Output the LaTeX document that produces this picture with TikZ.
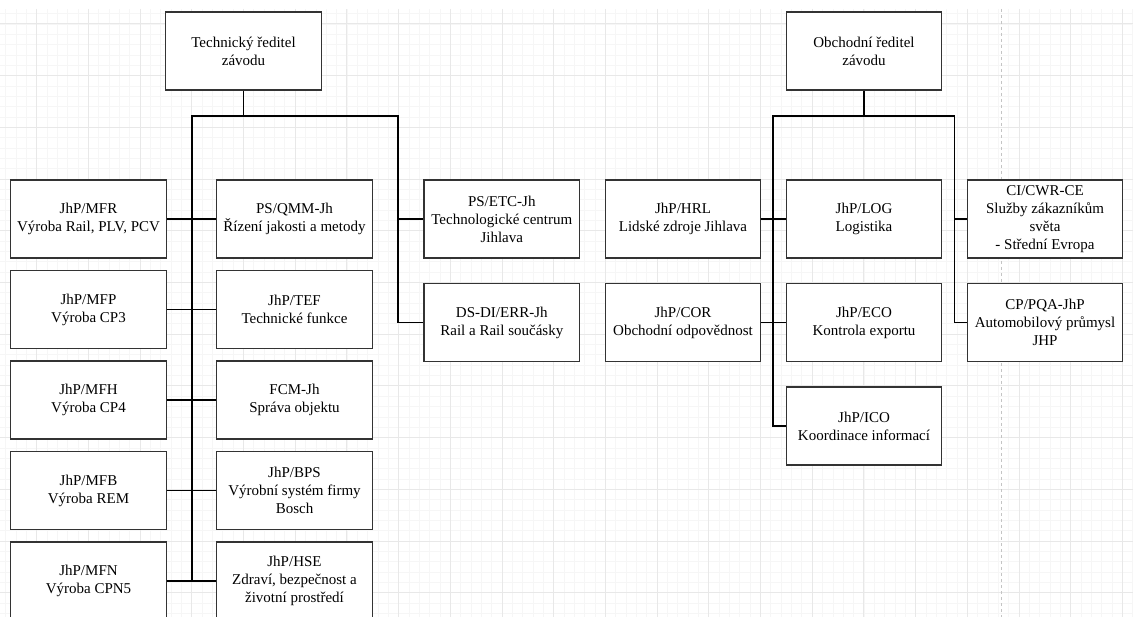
\documentclass[tikz,border=0pt]{standalone}
\usepackage{fontspec}
\setmainfont{Liberation Serif}
\usetikzlibrary{positioning,calc}
\definecolor{gridminor}{HTML}{F6F6F6}
\definecolor{gridmajor}{HTML}{E8E8E8}
\definecolor{pageline}{HTML}{C4C4C4}
\definecolor{boxline}{HTML}{333333}
\newcommand{\orgfont}{\fontsize{15}{18}\selectfont}
\tikzstyle{unit}=[draw=boxline, line width=1.3pt, fill=white, text centered, align=center, minimum width=155.5pt, minimum height=78pt, inner sep=0pt, font=\orgfont]
\tikzstyle{link}=[line width=1.3pt, black]

\begin{document}
\begin{tikzpicture}[x=1pt,y=-1pt,on grid,node distance=90.5pt and 206pt]
   \useasboundingbox (0,0) rectangle (1133,617);
   \clip (0,0) rectangle (1133,617);
   % background grid
   \foreach \i in {0,...,109} \draw[gridminor,line width=0.8pt] ({5.7+10.34*\i},9) -- ++(0,608);
   \foreach \i in {0,...,58} \draw[gridminor,line width=0.8pt] (0,{13.66+10.34*\i}) -- ++(1133,0);
   \foreach \i in {0,...,21} \draw[gridmajor,line width=1pt] ({36.7+51.7*\i},9) -- ++(0,608);
   \foreach \i in {0,...,11} \draw[gridmajor,line width=1pt] (0,{24+51.7*\i}) -- ++(1133,0);
   \draw[pageline,line width=1pt,dash pattern=on 3pt off 3pt] (1001.7,9) -- (1001.7,617);

   % technical director
   \node[unit] (tech) at (243.5,51) {Technický ředitel\\závodu};
   \node[unit] (qmm) at (294.5,219) {PS/QMM-Jh\\Řízení jakosti a metody};
   \node[unit] (mfr) [left=of qmm] {JhP/MFR\\Výroba Rail, PLV, PCV};
   \node[unit] (tef) [below=of qmm] {JhP/TEF\\Technické funkce};
   \node[unit] (mfp) [below=of mfr] {JhP/MFP\\Výroba CP3};
   \node[unit] (fcm) [below=of tef] {FCM-Jh\\Správa objektu};
   \node[unit] (mfh) [below=of mfp] {JhP/MFH\\Výroba CP4};
   \node[unit] (bps) [below=of fcm] {JhP/BPS\\Výrobní systém firmy\\Bosch};
   \node[unit] (mfb) [below=of mfh] {JhP/MFB\\Výroba REM};
   \node[unit] (hse) [below=of bps] {JhP/HSE\\Zdraví, bezpečnost a\\životní prostředí};
   \node[unit] (mfn) [below=of mfb] {JhP/MFN\\Výroba CPN5};
   \node[unit] (etc) at (501.8,219) {PS/ETC-Jh\\Technologické centrum\\Jihlava};
   \node[unit] (err) [below=103.5pt of etc] {DS-DI/ERR-Jh\\Rail a Rail součásky};

   % sales director
   \node[unit] (obch) at (864,51) {Obchodní ředitel\\závodu};
   \node[unit] (log) at (864,219) {JhP/LOG\\Logistika};
   \node[unit] (hrl) [left=181pt of log] {JhP/HRL\\Lidské zdroje Jihlava};
   \node[unit] (eco) [below=103.5pt of log] {JhP/ECO\\Kontrola exportu};
   \node[unit] (cor) [left=181pt of eco] {JhP/COR\\Obchodní odpovědnost};
   \node[unit] (ico) [below=103.5pt of eco] {JhP/ICO\\Koordinace informací};
   \node[unit] (cwr) [right=181pt of log] {CI/CWR-CE\\Služby zákazníkům\\světa\\ - Střední Evropa};
   \node[unit] (pqa) [below=103.5pt of cwr] {CP/PQA-JhP\\Automobilový průmysl\\JHP};

   \coordinate (tl) at (192,116);
   \coordinate (tr) at (398,116);
   \coordinate (ol) at (773,116);
   \coordinate (or) at (954.5,116);

   \draw[link] (tech.south) -- (tech.south |- tl);
   \draw[link] (mfn.east -| tl) -- (tl) -- (tr) -- (err.west -| tr) -- (err.west);
   \draw[link] (etc.west -| tr) -- (etc.west);
   \foreach \a/\b in {mfr/qmm, mfp/tef, mfh/fcm, mfb/bps, mfn/hse}
      \draw[link] (\a) -- (\b);

   \draw[link] (obch.south) -- (obch.south |- ol);
   \draw[link] (ico.west) -- (ico.west -| ol) -- (ol) -- (or) -- (pqa.west -| or) -- (pqa.west);
   \draw[link] (cwr.west -| or) -- (cwr.west);
   \path[link]
    (hrl) edge (log)
    (cor) edge (eco);
\end{tikzpicture}
\end{document}
